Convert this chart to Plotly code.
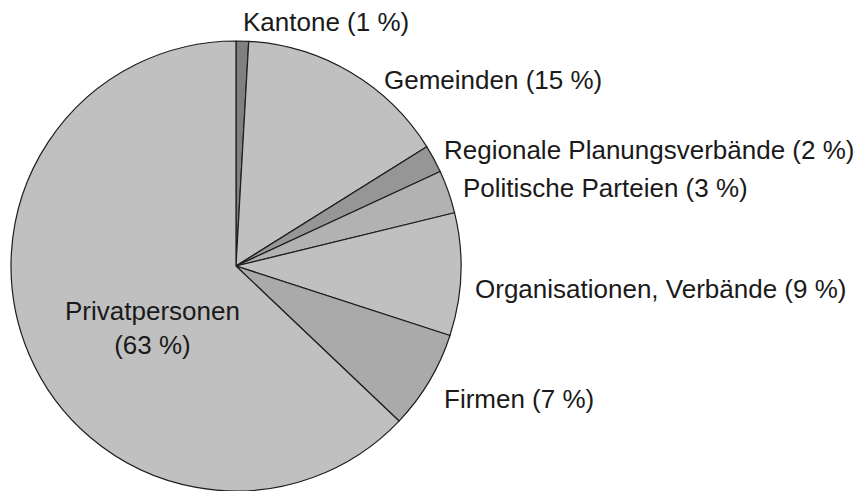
import plotly.graph_objects as go

categories = ["Kantone", "Gemeinden", "Regionale Planungsverbände", "Politische Parteien",
              "Organisationen, Verbände", "Firmen", "Privatpersonen"]
shares = [0.9, 15.2, 2.0, 3.1, 8.8, 7.1, 62.9]
label_pct = [1, 15, 2, 3, 9, 7, 63]
colors = ["#808080", "#C0C0C0", "#969696", "#B2B2B2", "#C0C0C0", "#AAAAAA", "#C0C0C0"]

OFF = 8  # page body margin
W, H = 864 - OFF, 491 - OFF
cx, cy, r = 236 - OFF, 266 - OFF, 225

fig = go.Figure(go.Pie(
    labels=categories, values=shares, sort=False, direction="clockwise", rotation=0,
    marker=dict(colors=colors, line=dict(color="#1e1e1e", width=1.2)),
    textinfo="none", hoverinfo="label+percent", showlegend=False,
    domain=dict(x=[(cx - r) / W, (cx + r) / W], y=[1 - (cy + r) / H, 1 - (cy - r) / H]),
))

label_pos = [(241, 22), (382, 80), (442, 150), (461, 188), (473, 289), (442, 399)]
font = dict(family="Liberation Sans, Arial, sans-serif", size=26, color="#1a1a1a")
for (px, py), name, p in zip(label_pos, categories[:6], label_pct[:6]):
    fig.add_annotation(x=(px - OFF) / W, y=1 - (py - OFF) / H, xref="paper", yref="paper",
                       text=f"{name} ({p} %)", showarrow=False,
                       xanchor="left", yanchor="middle", font=font)
fig.add_annotation(x=(152 - OFF) / W, y=1 - (328 - OFF) / H, xref="paper", yref="paper",
                   text=f"{categories[6]}<br>({label_pct[6]} %)", showarrow=False,
                   xanchor="center", yanchor="middle", font=font, align="center")

fig.update_layout(width=W, height=H, margin=dict(l=0, r=0, t=0, b=0),
                  paper_bgcolor="white", plot_bgcolor="white")
fig.write_html("out.html")
